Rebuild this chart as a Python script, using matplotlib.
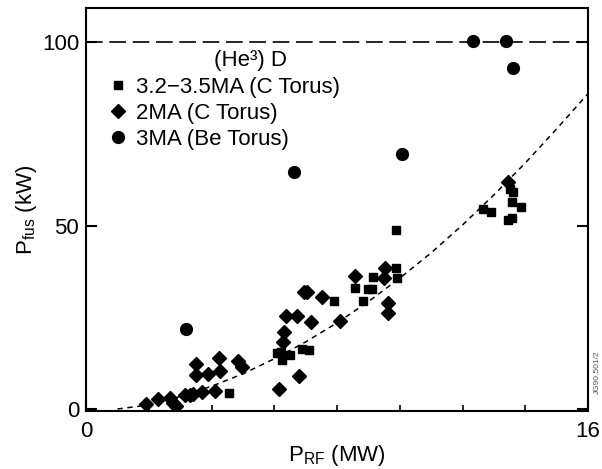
# P_fus vs P_RF for (He3)D experiments, redrawn from the scanned figure
import numpy as np
import matplotlib
matplotlib.use("Agg")
import matplotlib.pyplot as plt
from matplotlib.ticker import FixedLocator

plt.rcParams['font.family'] = ['Liberation Sans', 'DejaVu Sans']

# ─── DATA ─────────────────────────────────────────────────────
# 3.2-3.5 MA (C Torus) - squares
sq_x = [4.54, 6.08, 6.24, 6.20, 6.50, 6.87, 7.09, 7.90, 8.82, 8.57, 8.97, 9.12,
        9.15, 9.88, 9.90, 9.88, 12.66, 12.91, 13.50, 13.62, 13.56, 13.85,
        13.45, 13.58]
sq_y = [4.5, 15.3, 13.4, 15.6, 14.8, 16.4, 16.2, 29.4, 29.4, 33.0, 32.7, 32.7,
        36.0, 38.5, 35.7, 48.9, 54.4, 53.7, 60.0, 59.2, 56.5, 55.1,
        51.6, 52.0]

# 2 MA (C Torus) - diamonds
dm_x = [1.90, 2.30, 2.68, 2.78, 2.87, 3.16, 3.31, 3.42, 3.69, 4.11,
        3.51, 3.51, 3.88, 4.25, 4.27, 4.85, 4.96,
        6.15, 6.80, 6.27, 6.32, 6.36, 6.73, 7.16, 6.93, 7.05, 7.51,
        8.10, 8.57, 9.48, 9.53, 9.61, 9.61, 13.45]
dm_y = [1.5, 2.8, 3.0, 1.6, 0.9, 3.8, 3.8, 4.2, 4.6, 5.0,
        12.4, 9.4, 9.6, 13.9, 10.3, 13.0, 11.5,
        5.5, 8.9, 18.4, 20.9, 25.3, 25.3, 23.7, 31.8, 31.8, 30.4,
        23.9, 36.2, 35.7, 38.5, 28.9, 26.2, 62.0]

# 3 MA (Be Torus) - circles
ci_x = [3.19, 6.61, 10.06, 12.32, 13.39, 13.59]
ci_y = [21.7, 64.5, 69.4, 100.3, 100.3, 93.0]

# dashed trend curve through the data
fit_x = [1.0, 2, 3, 4, 5, 6, 7, 8, 9, 10, 11, 12, 13, 14, 15, 16]
fit_y = [0.0, 1.1, 3.4, 6.2, 9.6, 13.7, 18.3, 23.5, 29.3, 35.7, 42.6, 50.2,
         58.4, 67.1, 76.4, 86.0]

limit_y = 100   # horizontal dashed level
# ──────────────────────────────────────────────────────────────

FS = 16

fig = plt.figure(figsize=(6.02, 4.69), dpi=100)
ax = fig.add_axes([0.143, 0.124, 0.834, 0.858])

ax.axhline(limit_y, color="black", linewidth=1.2, dashes=(10, 4), zorder=1)
ax.plot(fit_x, fit_y, color="black", linewidth=1.1, dashes=(3.5, 3), zorder=1)

ax.plot(sq_x, sq_y, "s", color="black", markersize=6.2, linestyle="none",
        label="3.2\u22123.5MA (C Torus)", zorder=3)
ax.plot(dm_x, dm_y, "D", color="black", markersize=6.8, linestyle="none",
        label="2MA (C Torus)", zorder=3)
ax.plot(ci_x, ci_y, "o", color="black", markersize=8.5, linestyle="none",
        label="3MA (Be Torus)", zorder=3)

ax.set_xlim(0, 16)
ax.set_ylim(-0.5, 109.2)

ax.set_xticks([0, 16])
ax.xaxis.set_minor_locator(FixedLocator([2, 4, 6, 8, 10, 12, 14]))
ax.set_yticks([0, 50, 100])
ax.tick_params(axis="both", which="major", direction="in", length=8, width=1.5,
               labelsize=FS, pad=7)
ax.tick_params(axis="x", which="minor", direction="in", length=4, width=1.2)
ax.tick_params(axis="y", which="major", right=True, pad=5)
for s in ax.spines.values():
    s.set_linewidth(1.5)

ax.set_xlabel("P$_\\mathregular{RF}$ (MW)", fontsize=FS, labelpad=1)
ax.set_ylabel("P$_\\mathregular{fus}$ (kW)", fontsize=FS, labelpad=2)

# legend header, then the marker entries below it
ax.text(5.23, 95.0, "(He\u00b3) D", fontsize=FS, ha="center", va="center")
ax.legend(loc="upper left", bbox_to_anchor=(0.014, 0.868), frameon=False,
          fontsize=FS, handlelength=0.8, handletextpad=0.45, labelspacing=0.22,
          borderpad=0.2)

fig.text(0.992, 0.16, "JG90.501/2", rotation=90, fontsize=6, color="#555555",
         ha="center", va="bottom")

fig.savefig("out.png", dpi=100)
